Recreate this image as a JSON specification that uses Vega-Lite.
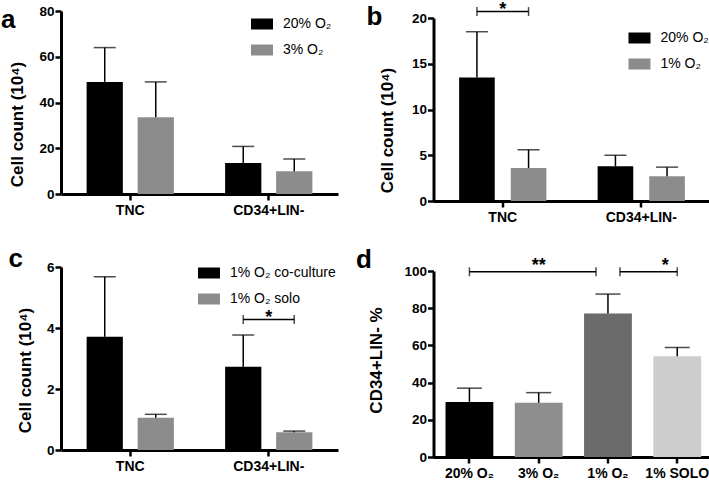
{
  "$schema": "https://vega.github.io/schema/vega-lite/v6.json",
  "padding": {"left": 0, "top": 0, "right": 0, "bottom": 0},
  "config": {
    "font": "Liberation Sans",
    "view": {"stroke": null},
    "axis": {
      "grid": false,
      "domainColor": "black",
      "domainWidth": 3,
      "tickColor": "black",
      "tickWidth": 2.5,
      "tickSize": 6,
      "labelColor": "black",
      "labelFont": "Liberation Sans",
      "labelFontWeight": "bold",
      "labelOverlap": false,
      "titleColor": "black",
      "titleFont": "Liberation Sans",
      "titleFontWeight": "bold",
      "titleFontSize": 17
    },
    "axisX": {"labelFontSize": 14, "labelAngle": 0, "labelPadding": 3, "title": null},
    "axisY": {"labelFontSize": 13.5, "labelPadding": 1, "titlePadding": 12, "labelOverlap": false},
    "legend": {
      "title": null,
      "labelFont": "Liberation Sans",
      "labelFontSize": 14,
      "labelColor": "black",
      "labelOffset": 10,
      "symbolType": "M-1,-0.5H1V0.5H-1Z",
      "symbolSize": 484,
      "symbolStrokeWidth": 0,
      "symbolOpacity": 1,
      "rowPadding": 8
    },
    "title": {"fontSize": 26, "fontWeight": "bold", "font": "Liberation Sans", "color": "black", "anchor": "start", "frame": "bounds", "baseline": "alphabetic"}
  },
  "resolve": {"scale": {"color": "independent", "x": "independent", "y": "independent", "xOffset": "independent"}, "legend": {"color": "independent"}},
  "vconcat": [
    {
      "spacing": 27.5,
      "resolve": {"scale": {"color": "independent", "x": "independent", "y": "independent", "xOffset": "independent"}, "legend": {"color": "independent"}},
      "hconcat": [
        {
          "title": {"text": "a", "offset": -29, "dx": -8},
          "width": 277,
          "height": 183,
          "data": {"values": [
            {"cat": "TNC", "grp": "20% O₂", "mean": 49.0, "err": 64.0},
            {"cat": "TNC", "grp": "3% O₂", "mean": 33.5, "err": 49.0},
            {"cat": "CD34+LIN-", "grp": "20% O₂", "mean": 13.5, "err": 20.8},
            {"cat": "CD34+LIN-", "grp": "3% O₂", "mean": 9.9, "err": 15.3}
          ]},
          "encoding": {
            "x": {"field": "cat", "type": "nominal", "sort": ["TNC", "CD34+LIN-"], "scale": {"paddingInner": 0.37, "paddingOuter": 0.185}},
            "xOffset": {"field": "grp", "type": "nominal", "sort": ["20% O₂", "3% O₂"], "scale": {"paddingInner": 0.29, "paddingOuter": 0}}
          },
          "layer": [
            {
              "mark": {"type": "bar"},
              "encoding": {
                "y": {"field": "mean", "type": "quantitative", "scale": {"domain": [0, 80]}, "axis": {"values": [0, 20, 40, 60, 80], "tickCount": 5, "labelOverlap": false, "labelSeparation": 0, "title": "Cell count (10⁴)", "titleY": 113}},
                "color": {"field": "grp", "type": "nominal", "sort": ["20% O₂", "3% O₂"], "scale": {"range": ["#000000", "#8c8c8c"]}, "legend": {"orient": "none", "legendX": 190, "legendY": 2}}
              }
            },
            {
              "mark": {"type": "rule", "color": "black", "strokeWidth": 1.5},
              "encoding": {"y": {"field": "mean", "type": "quantitative"}, "y2": {"field": "err"}}
            },
            {
              "mark": {"type": "tick", "color": "black", "thickness": 1.5, "size": 22},
              "encoding": {"y": {"field": "err", "type": "quantitative"}}
            }
          ]
        },
        {
          "title": {"text": "b", "offset": -29, "dx": -12},
          "width": 277,
          "height": 190,
          "layer": [
            {
              "data": {"values": [
                {"cat": "TNC", "grp": "20% O₂", "mean": 13.5, "err": 18.5},
                {"cat": "TNC", "grp": "1% O₂", "mean": 3.6, "err": 5.6},
                {"cat": "CD34+LIN-", "grp": "20% O₂", "mean": 3.8, "err": 5.0},
                {"cat": "CD34+LIN-", "grp": "1% O₂", "mean": 2.7, "err": 3.7}
              ]},
              "encoding": {
                "x": {"field": "cat", "type": "nominal", "sort": ["TNC", "CD34+LIN-"], "scale": {"paddingInner": 0.37, "paddingOuter": 0.185}},
                "xOffset": {"field": "grp", "type": "nominal", "sort": ["20% O₂", "1% O₂"], "scale": {"paddingInner": 0.31, "paddingOuter": 0}}
              },
              "layer": [
                {
                  "mark": {"type": "bar"},
                  "encoding": {
                    "y": {"field": "mean", "type": "quantitative", "scale": {"domain": [0, 20], "range": [190, 7]}, "axis": {"values": [0, 5, 10, 15, 20], "tickCount": 5, "labelOverlap": false, "labelSeparation": 0, "title": "Cell count (10⁴)", "titleY": 119, "titlePadding": 15}},
                    "color": {"field": "grp", "type": "nominal", "sort": ["20% O₂", "1% O₂"], "scale": {"range": ["#000000", "#8c8c8c"]}, "legend": {"orient": "none", "legendX": 195, "legendY": 16}}
                  }
                },
                {
                  "mark": {"type": "rule", "color": "black", "strokeWidth": 1.5},
                  "encoding": {"y": {"field": "mean", "type": "quantitative"}, "y2": {"field": "err"}}
                },
                {
                  "mark": {"type": "tick", "color": "black", "thickness": 1.5, "size": 22},
                  "encoding": {"y": {"field": "err", "type": "quantitative"}}
                }
              ]
            },
            {
              "data": {"values": [
                {"cat": "TNC", "grp": "20% O₂", "y": 20.7},
                {"cat": "TNC", "grp": "1% O₂", "y": 20.7}
              ]},
              "encoding": {
                "x": {"field": "cat", "type": "nominal", "sort": ["TNC", "CD34+LIN-"]},
                "xOffset": {"field": "grp", "type": "nominal", "sort": ["20% O₂", "1% O₂"]},
                "y": {"field": "y", "type": "quantitative"}
              },
              "layer": [
                {"mark": {"type": "line", "color": "black", "strokeWidth": 1.5}},
                {"mark": {"type": "tick", "orient": "vertical", "color": "black", "thickness": 1.5, "size": 9}}
              ]
            },
            {
              "data": {"values": [{"cat": "TNC", "y": 20.35, "label": "*"}]},
              "mark": {"type": "text", "fontSize": 18, "fontWeight": "bold", "baseline": "alphabetic", "color": "black"},
              "encoding": {
                "x": {"field": "cat", "type": "nominal", "sort": ["TNC", "CD34+LIN-"]},
                "y": {"field": "y", "type": "quantitative"},
                "text": {"field": "label"}
              }
            }
          ]
        }
      ]
    },
    {
      "spacing": 17.5,
      "resolve": {"scale": {"color": "independent", "x": "independent", "y": "independent", "xOffset": "independent"}, "legend": {"color": "independent"}},
      "hconcat": [
        {
          "title": {"text": "c", "offset": -12, "dx": -8},
          "width": 277,
          "height": 183,
          "layer": [
            {
              "data": {"values": [
                {"cat": "TNC", "grp": "1% O₂ co-culture", "mean": 3.71, "err": 5.68},
                {"cat": "TNC", "grp": "1% O₂ solo", "mean": 1.06, "err": 1.17},
                {"cat": "CD34+LIN-", "grp": "1% O₂ co-culture", "mean": 2.73, "err": 3.77},
                {"cat": "CD34+LIN-", "grp": "1% O₂ solo", "mean": 0.58, "err": 0.62}
              ]},
              "encoding": {
                "x": {"field": "cat", "type": "nominal", "sort": ["TNC", "CD34+LIN-"], "scale": {"paddingInner": 0.37, "paddingOuter": 0.185}},
                "xOffset": {"field": "grp", "type": "nominal", "sort": ["1% O₂ co-culture", "1% O₂ solo"], "scale": {"paddingInner": 0.29, "paddingOuter": 0}}
              },
              "layer": [
                {
                  "mark": {"type": "bar"},
                  "encoding": {
                    "y": {"field": "mean", "type": "quantitative", "scale": {"domain": [0, 6]}, "axis": {"values": [0, 2, 4, 6], "tickCount": 4, "labelOverlap": false, "labelSeparation": 0, "title": "Cell count (10⁴)", "titleY": 103}},
                    "color": {"field": "grp", "type": "nominal", "sort": ["1% O₂ co-culture", "1% O₂ solo"], "scale": {"range": ["#000000", "#8c8c8c"]}, "legend": {"orient": "none", "legendX": 137, "legendY": -5}}
                  }
                },
                {
                  "mark": {"type": "rule", "color": "black", "strokeWidth": 1.5},
                  "encoding": {"y": {"field": "mean", "type": "quantitative"}, "y2": {"field": "err"}}
                },
                {
                  "mark": {"type": "tick", "color": "black", "thickness": 1.5, "size": 22},
                  "encoding": {"y": {"field": "err", "type": "quantitative"}}
                }
              ]
            },
            {
              "data": {"values": [
                {"cat": "CD34+LIN-", "grp": "1% O₂ co-culture", "y": 4.28},
                {"cat": "CD34+LIN-", "grp": "1% O₂ solo", "y": 4.28}
              ]},
              "encoding": {
                "x": {"field": "cat", "type": "nominal", "sort": ["TNC", "CD34+LIN-"]},
                "xOffset": {"field": "grp", "type": "nominal", "sort": ["1% O₂ co-culture", "1% O₂ solo"]},
                "y": {"field": "y", "type": "quantitative"}
              },
              "layer": [
                {"mark": {"type": "line", "color": "black", "strokeWidth": 1.5}},
                {"mark": {"type": "tick", "orient": "vertical", "color": "black", "thickness": 1.5, "size": 9}}
              ]
            },
            {
              "data": {"values": [{"cat": "CD34+LIN-", "y": 4.18, "label": "*"}]},
              "mark": {"type": "text", "fontSize": 18, "fontWeight": "bold", "baseline": "alphabetic", "color": "black"},
              "encoding": {
                "x": {"field": "cat", "type": "nominal", "sort": ["TNC", "CD34+LIN-"]},
                "y": {"field": "y", "type": "quantitative"},
                "text": {"field": "label"}
              }
            }
          ]
        },
        {
          "title": {"text": "d", "offset": -16, "dx": -12},
          "width": 275,
          "height": 190,
          "layer": [
            {
              "data": {"values": [
                {"cat": "20% O₂", "mean": 29.6, "err": 37.0},
                {"cat": "3% O₂", "mean": 29.1, "err": 34.6},
                {"cat": "1% O₂", "mean": 77.2, "err": 87.6},
                {"cat": "1% SOLO", "mean": 54.2, "err": 58.9}
              ]},
              "encoding": {
                "x": {"field": "cat", "type": "nominal", "sort": ["20% O₂", "3% O₂", "1% O₂", "1% SOLO"], "scale": {"paddingInner": 0.31, "paddingOuter": 0.14, "align": 0.62}}
              },
              "layer": [
                {
                  "mark": {"type": "bar"},
                  "encoding": {
                    "y": {"field": "mean", "type": "quantitative", "scale": {"domain": [0, 100], "range": [190, 4]}, "axis": {"values": [0, 20, 40, 60, 80, 100], "tickCount": 6, "labelOverlap": false, "labelSeparation": 0, "title": "CD34+LIN- %", "titleY": 93, "titlePadding": 18}},
                    "color": {"field": "cat", "type": "nominal", "sort": ["20% O₂", "3% O₂", "1% O₂", "1% SOLO"], "scale": {"range": ["#000000", "#8e8e8e", "#6b6b6b", "#cdcdcd"]}, "legend": null}
                  }
                },
                {
                  "mark": {"type": "rule", "color": "black", "strokeWidth": 1.5},
                  "encoding": {"y": {"field": "mean", "type": "quantitative"}, "y2": {"field": "err"}}
                },
                {
                  "mark": {"type": "tick", "color": "black", "thickness": 1.5, "size": 25},
                  "encoding": {"y": {"field": "err", "type": "quantitative"}}
                }
              ]
            },
            {
              "data": {"values": [
                {"seg": "A", "cat": "20% O₂", "side": "center", "y": 99.6},
                {"seg": "A", "cat": "1% O₂", "side": "left", "y": 99.6},
                {"seg": "B", "cat": "1% O₂", "side": "right", "y": 99.6},
                {"seg": "B", "cat": "1% SOLO", "side": "center", "y": 99.6}
              ]},
              "encoding": {
                "x": {"field": "cat", "type": "nominal", "sort": ["20% O₂", "3% O₂", "1% O₂", "1% SOLO"]},
                "xOffset": {"field": "side", "type": "nominal", "sort": ["left", "center", "right"], "scale": {"paddingInner": 0, "paddingOuter": 0.5}},
                "y": {"field": "y", "type": "quantitative"},
                "detail": {"field": "seg"}
              },
              "layer": [
                {"mark": {"type": "line", "color": "black", "strokeWidth": 1.5}},
                {"mark": {"type": "tick", "orient": "vertical", "color": "black", "thickness": 1.5, "size": 9}}
              ]
            },
            {
              "data": {"values": [
                {"cat": "3% O₂", "side": "center", "y": 100.2, "label": "**"},
                {"cat": "1% SOLO", "side": "left", "y": 100.2, "label": "*"}
              ]},
              "mark": {"type": "text", "fontSize": 18, "fontWeight": "bold", "baseline": "alphabetic", "color": "black"},
              "encoding": {
                "x": {"field": "cat", "type": "nominal", "sort": ["20% O₂", "3% O₂", "1% O₂", "1% SOLO"]},
                "xOffset": {"field": "side", "type": "nominal", "sort": ["left", "center", "right"]},
                "y": {"field": "y", "type": "quantitative"},
                "text": {"field": "label"}
              }
            }
          ]
        }
      ]
    }
  ],
  "spacing": 22
}
